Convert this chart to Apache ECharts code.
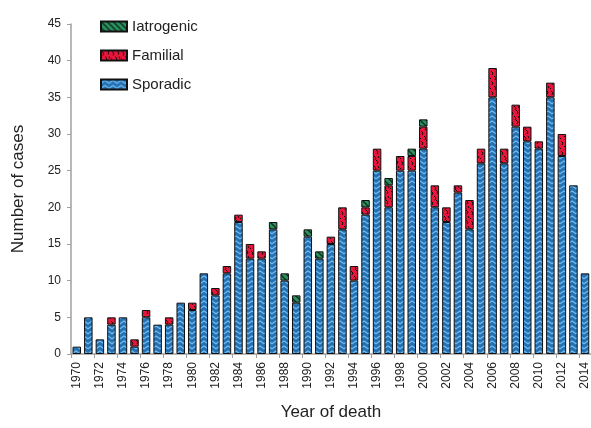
<!DOCTYPE html>
<html>
<head>
<meta charset="utf-8">
<script src="https://cdn.jsdelivr.net/npm/echarts@6/dist/echarts.min.js"></script>
<style>html,body{margin:0;padding:0;background:#fff}#c{width:591px;height:428px}</style>
</head>
<body>
<div id="c"></div>
<script>
const years = ['1970','1971','1972','1973','1974','1975','1976','1977','1978','1979','1980','1981','1982','1983','1984','1985','1986','1987','1988','1989','1990','1991','1992','1993','1994','1995','1996','1997','1998','1999','2000','2001','2002','2003','2004','2005','2006','2007','2008','2009','2010','2011','2012','2013','2014'];
const sporadic = [1,5,2,4,5,1,5,4,4,7,6,11,8,11,18,13,13,17,10,7,16,13,15,17,10,19,25,20,25,25,28,20,18,22,17,26,35,26,31,29,28,35,27,23,11];
const familial = [0,0,0,1,0,1,1,0,1,0,1,0,1,1,1,2,1,0,0,0,0,0,1,3,2,1,3,3,2,2,3,3,2,1,4,2,4,2,3,2,1,2,3,0,0];
const iatrogenic = [0,0,0,0,0,0,0,0,0,0,0,0,0,0,0,0,0,1,1,1,1,1,0,0,0,1,0,1,0,1,1,0,0,0,0,0,0,0,0,0,0,0,0,0,0];
const yTicks = [0,5,10,15,20,25,30,35,40,45];

function mkCanvas(w,h,bg){const c=document.createElement('canvas');c.width=w;c.height=h;const x=c.getContext('2d');x.fillStyle=bg;x.fillRect(0,0,w,h);return [c,x];}
// Sporadic: blue with light-blue chevrons
const [cS,xS]=mkCanvas(8,5,'#2470b2');
xS.strokeStyle='#72bdf0';xS.lineWidth=1.2;xS.beginPath();xS.moveTo(-0.5,4);xS.lineTo(4,1);xS.lineTo(8.5,4);xS.stroke();
// Familial: red with black squiggles
const [cF,xF]=mkCanvas(10,10,'#e8163c');
xF.strokeStyle='#1a0a0a';xF.lineWidth=1;
xF.beginPath();xF.moveTo(1,1);xF.lineTo(3,3);xF.lineTo(2,5);xF.stroke();
xF.beginPath();xF.moveTo(6,0);xF.lineTo(8,2);xF.lineTo(7,4);xF.stroke();
xF.beginPath();xF.moveTo(4,6);xF.lineTo(6,8);xF.lineTo(5,10);xF.stroke();
xF.beginPath();xF.moveTo(8,6);xF.lineTo(9,8);xF.stroke();
xF.beginPath();xF.moveTo(0,8);xF.lineTo(1,9);xF.stroke();
// Iatrogenic: green with black diagonal stripes
const [cI,xI]=mkCanvas(6,6,'#2a9160');
xI.strokeStyle='#0d2a1a';xI.lineWidth=1.3;
xI.beginPath();xI.moveTo(0,0);xI.lineTo(6,6);xI.moveTo(-3,3);xI.lineTo(3,9);xI.moveTo(3,-3);xI.lineTo(9,3);xI.stroke();

const pat = c => ({image:c, repeat:'repeat'});
const font = 'Liberation Sans, Arial, sans-serif';
const common = {type:'bar', stack:'total', barWidth:8.5, itemStyle:{borderColor:'#111',borderWidth:1}};

const chart = echarts.init(document.getElementById('c'));
chart.setOption({
  animation:false,
  textStyle:{fontFamily:font},
  grid:{left:71,right:0,top:24,bottom:74},
  legend:{
    data:['Iatrogenic','Familial','Sporadic'],
    orient:'vertical', left:95, top:14, itemWidth:26, itemHeight:10, itemGap:14, icon:'rect',
    textStyle:{fontFamily:font,fontSize:15,color:'#222'},
    selectedMode:false
  },
  xAxis:{
    type:'category', data:years,
    name:'Year of death', nameLocation:'middle', nameGap:50,
    nameTextStyle:{fontFamily:font,fontSize:17,color:'#222'},
    axisLine:{lineStyle:{color:'#a0a0a0',width:1.5}},
    axisTick:{show:true,length:4,lineStyle:{color:'#a0a0a0'}},
    axisLabel:{interval:1,rotate:90,fontSize:12,color:'#222',margin:8,fontFamily:font}
  },
  yAxis:{
    type:'value', min:yTicks[0], max:yTicks[yTicks.length-1], interval:5,
    name:'Number of cases', nameLocation:'middle', nameGap:44,
    nameTextStyle:{fontFamily:font,fontSize:17,color:'#222'},
    axisLine:{show:true,lineStyle:{color:'#a0a0a0',width:1.5}},
    axisTick:{show:true,length:4,lineStyle:{color:'#a0a0a0'}},
    splitLine:{show:false},
    axisLabel:{fontSize:12,color:'#222',margin:10,fontFamily:font}
  },
  series:[
    Object.assign({},common,{name:'Sporadic',data:sporadic,itemStyle:Object.assign({},common.itemStyle,{color:pat(cS)})}),
    Object.assign({},common,{name:'Familial',data:familial.map(v=>v||'-'),itemStyle:Object.assign({},common.itemStyle,{color:pat(cF)})}),
    Object.assign({},common,{name:'Iatrogenic',data:iatrogenic.map(v=>v||'-'),itemStyle:Object.assign({},common.itemStyle,{color:pat(cI)})})
  ]
});
</script>
</body>
</html>
